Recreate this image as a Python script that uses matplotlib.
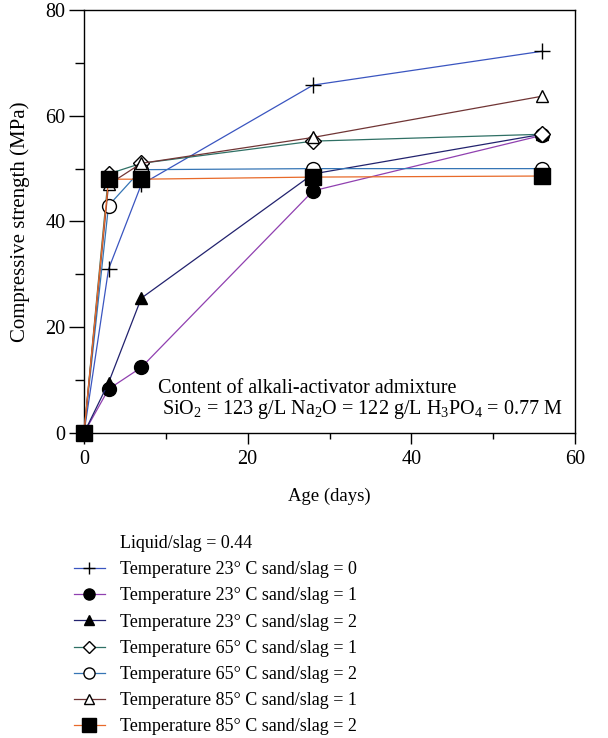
import matplotlib.pyplot as plt
from matplotlib.lines import Line2D
from matplotlib.ticker import MultipleLocator

plt.rcParams['font.family'] = ['Liberation Serif', 'DejaVu Serif']
plt.rcParams['mathtext.fontset'] = 'custom'
plt.rcParams['mathtext.rm'] = 'Liberation Serif'

# Age in days
age = [0, 3, 7, 28, 56]

# Compressive strength (MPa)
t23_s0 = [0, 31, 47, 65.8, 72.2]
t23_s1 = [0, 8.3, 12.4, 45.8, 56.3]
t23_s2 = [0, 9.5, 25.5, 49.0, 56.5]
t65_s1 = [0, 49.0, 51.0, 55.2, 56.5]
t65_s2 = [0, 43.0, 49.8, 50.0, 50.0]
t85_s1 = [0, 47.0, 51.0, 55.9, 63.7]
t85_s2 = [0, 48.0, 48.0, 48.4, 48.6]

labels = ['Temperature 23° C sand/slag = 0',
          'Temperature 23° C sand/slag = 1',
          'Temperature 23° C sand/slag = 2',
          'Temperature 65° C sand/slag = 1',
          'Temperature 65° C sand/slag = 2',
          'Temperature 85° C sand/slag = 1',
          'Temperature 85° C sand/slag = 2']

FS = 14.5

fig = plt.figure(figsize=(6.08, 7.38), dpi=100)
ax = fig.add_axes([84/608, 1-433/738, (575-84)/608, (433-10)/738])

styles = [
    (t23_s0, '#3a55c0', '+', 'black', 11),
    (t23_s1, '#9040b0', 'o', 'black', 10),
    (t23_s2, '#22226e', '^', 'black', 9),
    (t65_s1, '#2f7065', 'D', 'white', 8),
    (t65_s2, '#3575b5', 'o', 'white', 10),
    (t85_s1, '#703535', '^', 'white', 9),
    (t85_s2, '#e86a2a', 's', 'black', 12),
]

handles = []
for (vals, col, mk, face, ms), lab in zip(styles, labels):
    ax.plot(age, vals, color=col, lw=0.9, marker=mk, ms=ms, mfc=face,
            mec='black', mew=1.0, zorder=3, clip_on=False)
    handles.append(Line2D([], [], color=col, lw=0.9, marker=mk,
                          ms=ms*0.8, mfc=face, mec='black', mew=1.0))

ax.set_xlim(0, 60)
ax.set_ylim(0, 80)
ax.xaxis.set_major_locator(MultipleLocator(20))
ax.xaxis.set_minor_locator(MultipleLocator(10))
ax.yaxis.set_major_locator(MultipleLocator(20))
ax.yaxis.set_minor_locator(MultipleLocator(10))
ax.tick_params(which='both', direction='out', labelsize=FS, width=1)
ax.tick_params(axis='y', which='major', length=10.5, pad=3)
ax.tick_params(axis='y', which='minor', length=6.5)
ax.tick_params(axis='x', which='major', length=8, pad=4)
ax.tick_params(axis='x', which='minor', length=4.5)
for s in ax.spines.values():
    s.set_linewidth(1)

ax.set_xlabel('Age (days)', fontsize=13.5, labelpad=14)
ax.set_ylabel('Compressive strength (MPa)', fontsize=15, labelpad=11)

ax.text(9.0, 8.5, 'Content of alkali-activator admixture', fontsize=FS,
        va='center')
ax.text(9.5, 4.35, 'SiO$_2$ = 123 g/L Na$_2$O = 122 g/L H$_3$PO$_4$ = 0.77 M',
        fontsize=FS, va='center')

title_handle = Line2D([], [], color='none')
fig.legend([title_handle] + handles, ['Liquid/slag = 0.44'] + labels,
           loc='upper left', bbox_to_anchor=(74/608, 1-535/738),
           frameon=False, fontsize=13, handlelength=1.7,
           handletextpad=0.85, labelspacing=0.51, borderpad=0,
           borderaxespad=0)

fig.savefig('out.png', dpi=100)
